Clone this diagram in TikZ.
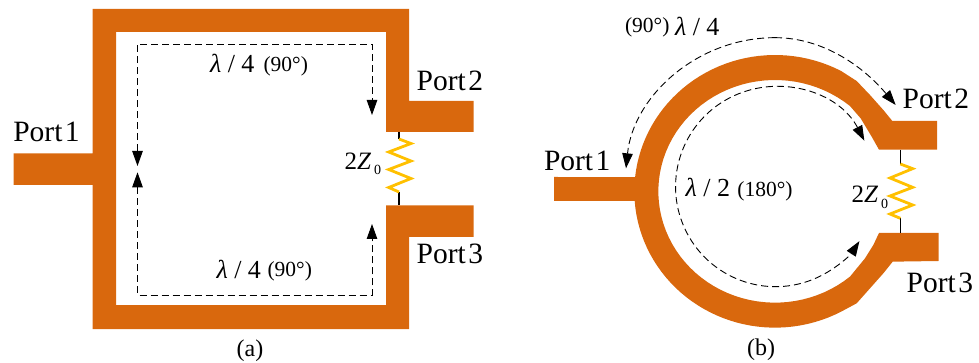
\documentclass[tikz,border=0pt]{standalone}
\usepackage{fontspec}
\setmainfont{Liberation Serif}
\usetikzlibrary{arrows.meta}
\definecolor{strip}{HTML}{D9680D}
\definecolor{resist}{HTML}{FFC000}
\newcommand{\portfont}{\fontsize{29.5}{32}\selectfont}
\newcommand{\lamfont}{\fontsize{26}{28}\selectfont}
\newcommand{\degfont}{\fontsize{21.5}{24}\selectfont}
\newcommand{\capfont}{\fontsize{24}{26}\selectfont}
\newcommand{\zfont}{\fontsize{25}{28}\selectfont}
\newcommand{\subfont}{\fontsize{14}{16}\selectfont}
\tikzset{
  x=1pt,y=-1pt,
  metal/.style={fill=strip,draw=none},
  lead/.style={draw=black,line width=1.2pt},
  zig/.style={draw=resist,line width=2.8pt,line join=miter},
  path line/.style={draw=black,line width=0.9pt,dash pattern=on 7pt off 4pt,-{Triangle[length=15pt,width=10.5pt]}},
  two line/.style={draw=black,line width=0.9pt,dash pattern=on 7pt off 4pt,{Triangle[length=15pt,width=10.5pt]}-{Triangle[length=15pt,width=10.5pt]}},
  lab/.style={anchor=base west,inner sep=0pt,outer sep=0pt,text=black},
  capt/.style={anchor=base,inner sep=0pt,outer sep=0pt,text=black}
}
\begin{document}
\begin{tikzpicture}
\useasboundingbox (0,0) rectangle (979,363);
% ---------- (a)
\fill[metal] (92.5,9) -- (409,9) -- (409,101) -- (473.5,101) -- (473.5,132) -- (386,132) -- (386,32) -- (116,32) -- (116,305) -- (386,305) -- (386,205.5) -- (473.5,205.5) -- (473.5,237) -- (409,237) -- (409,329) -- (92.5,329) -- (92.5,185) -- (13.5,185) -- (13.5,153.5) -- (92.5,153.5) -- cycle;
\coordinate (a2) at (399,132);
\coordinate (a3) at (399,205.5);
\coordinate (az1) at (399,139);
\coordinate (az2) at (399,192);
\draw[lead] (a2) -- (az1);
\draw[lead] (az2) -- (a3);
\draw[zig] (az1) -- (411,143.5) -- (388.7,152) -- (411,161) -- (388.7,169.5) -- (411,178.5) -- (388.7,187.5) -- (az2);
\coordinate (atl) at (137.5,166);
\coordinate (atc) at (137.5,44);
\coordinate (atr) at (372,44);
\coordinate (atb) at (372,115);
\coordinate (abl) at (137.5,172.3);
\coordinate (abc) at (137.5,295);
\coordinate (abr) at (372,295);
\coordinate (abt) at (372,224);
\draw[two line] (atl) -- (atc) -- (atr) -- (atb);
\draw[two line] (abl) -- (abc) -- (abr) -- (abt);
\node[lab] (ap1) at (13.3,142) {\portfont Port\kern2.5pt 1};
\node[lab] (ap2) at (416.7,90.7) {\portfont Port\kern2.5pt 2};
\node[lab] (ap3) at (416.7,264) {\portfont Port\kern2.5pt 3};
\node[lab] (al1) at (210,72.7) {\lamfont\textit{λ} / 4};
\node[lab] (ad1) at (263.5,71.7) {\degfont (90°)};
\node[lab] (al2) at (216.5,278.3) {\lamfont\textit{λ} / 4};
\node[lab] (ad2) at (267.5,276.7) {\degfont (90°)};
\node[lab] (az) at (344.5,170) {\zfont 2\textit{Z}};
\node[lab] (azs) at (374,175) {\subfont 0};
\node[capt] (acap) at (250,356) {\capfont (a)};
% ---------- (b)
\begin{scope}[xshift=530pt,x=0.33333pt,y=-0.33333pt]
\fill[metal] (1087,363) -- (1221,363) -- (1221,449) -- (1047,449) -- (1025,410) -- (992,355)
  -- plot[domain=50:310,samples=70] ({735+350*cos(\x)},{574-334*sin(\x)})
  -- (1005,775) -- (1030,735) -- (1047,699)
  -- (1226,699) -- (1226,783) -- (1088,785) -- (1060,820) -- (1020,865) -- (980,910)
  -- plot[domain=298:184,samples=40] ({735+422*cos(\x)},{574-409*sin(\x)})
  -- (72,603) -- (72,531)
  -- plot[domain=174:62,samples=40] ({735+422*cos(\x)},{574-409*sin(\x)})
  -- (980,243) -- (1020,285) -- (1060,330) -- cycle;
\coordinate (b2) at (1111,449);
\coordinate (b3) at (1111,699);
\coordinate (bz1) at (1111,492);
\coordinate (bz2) at (1111,655);
\draw[lead] (b2) -- (bz1);
\draw[lead] (bz2) -- (b3);
\draw[zig] (bz1) -- (1148,506) -- (1080,534) -- (1148,562) -- (1080,588) -- (1148,615) -- (1080,642) -- (bz2);
\coordinate (bo1) at (288,505);
\coordinate (boc) at (735,113);
\coordinate (bo2) at (1097,315);
\draw[path line] (boc) .. controls (500,113) and (310,290) .. (bo1);
\draw[path line] (boc) .. controls (880,113) and (1000,200) .. (bo2);
\draw[two line] (1003,422) arc[start angle=-27.4,end angle=-327,radius=300];
\node[lab] (bp1) at (42,512) {\portfont Port\kern2.5pt 1};
\node[lab] (bp2) at (1118,325) {\portfont Port\kern2.5pt 2};
\node[lab] (bp3) at (1130,878) {\portfont Port\kern2.5pt 3};
\node[lab] (bd1) at (285,98) {\degfont (90°)};
\node[lab] (bl1) at (435,108) {\lamfont\textit{λ} / 4};
\node[lab] (bl2) at (467,590) {\lamfont\textit{λ} / 2};
\node[lab] (bd2) at (622,590) {\degfont (180°)};
\node[lab] (bz) at (965,608) {\zfont 2\textit{Z}};
\node[lab] (bzs) at (1053,626) {\subfont 0};
\node[capt] (bcap) at (693,1068) {\capfont (b)};
\end{scope}
\end{tikzpicture}
\end{document}
